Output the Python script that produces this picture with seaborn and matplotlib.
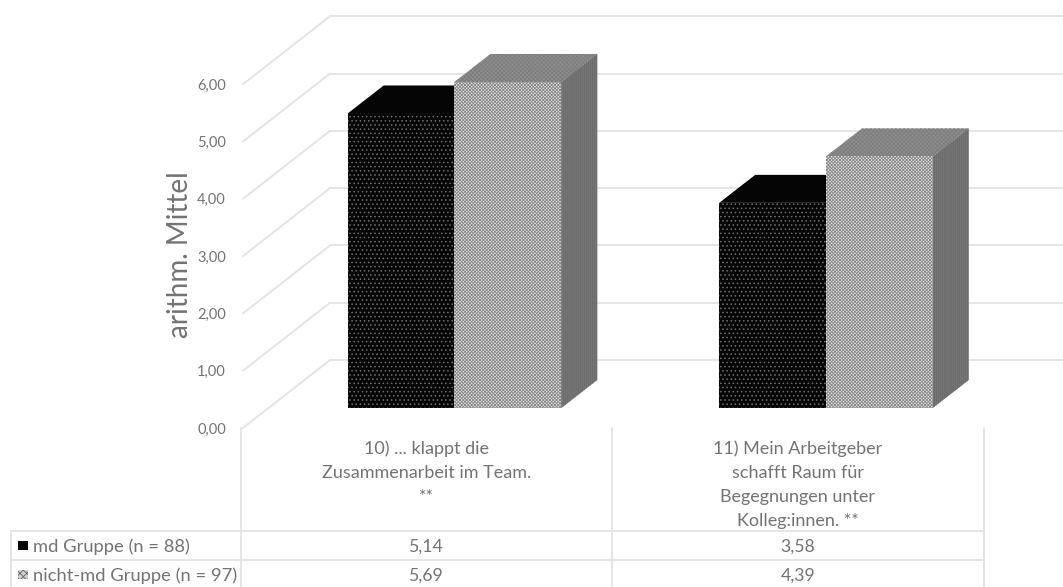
import matplotlib
matplotlib.use("Agg")
import matplotlib.pyplot as plt
from matplotlib.patches import Polygon, Rectangle
from matplotlib.lines import Line2D
import pandas as pd
import seaborn as sns

# Survey means
categories = [
    "10) ... klappt die\nZusammenarbeit im Team.\n**",
    "11) Mein Arbeitgeber\nschafft Raum für\nBegegnungen unter\nKolleg:innen. **",
]
series_names = ["md Gruppe (n = 88)", "nicht-md Gruppe (n = 97)"]
md_values = [5.14, 3.58]
non_md_values = [5.69, 4.39]
y_ticks = [0, 1, 2, 3, 4, 5, 6]

WIDTH, HEIGHT = 1063, 587
GRID = "#e3e3e3"
TEXT = "#737373"
PX_PER_CAT = 371.5
PX_PER_UNIT = 57.3
CAT0_X, ZERO_Y = 454.5, 408


def x_data(px):
    return (px - CAT0_X) / PX_PER_CAT


def y_data(px):
    return (ZERO_Y - px) / PX_PER_UNIT


sns.set_theme(style="white")
plt.rcParams["font.family"] = ["Lato", "DejaVu Sans"]
plt.rcParams["hatch.linewidth"] = 0.6

fig = plt.figure(figsize=(WIDTH / 100, HEIGHT / 100), dpi=100, facecolor="white")
ax = fig.add_axes([0, 0, 1, 1])

df = pd.DataFrame({
    "category": categories * 2,
    "group": [series_names[0]] * 2 + [series_names[1]] * 2,
    "value": md_values + non_md_values,
})

# Front faces of the bars
sns.barplot(data=df, x="category", y="value", hue="group", hue_order=series_names,
            order=categories, width=0.575, gap=0, dodge=True, legend=False, ax=ax)
ax.set_xlim(x_data(0), x_data(WIDTH))
ax.set_ylim(y_data(HEIGHT), y_data(0))
ax.set_axis_off()

# Side wall and back wall gridlines of the 3D frame
wall_front_x, wall_back_x = x_data(243), x_data(330)
wall_front_off, wall_back_off = y_data(428), y_data(360)
label_off = y_data(429.5)
for t in y_ticks:
    ax.plot([wall_front_x, wall_back_x], [t + wall_front_off, t + wall_back_off],
            color=GRID, lw=1.3, zorder=1)
    ax.plot([wall_back_x, x_data(WIDTH)], [t + wall_back_off] * 2,
            color=GRID, lw=1.3, zorder=1)
    ax.text(x_data(226), t + label_off, f"{t},00",
            ha="right", va="center", fontsize=10.5, color=TEXT)

depth_x, depth_y = 36 / PX_PER_CAT, 28 / PX_PER_UNIT
styles = [
    dict(front="#050505", hatch_c="#6f6f6f", hatch="....", top="#050505", side="#050505", z=3),
    dict(front="#e6e6e6", hatch_c="#858585", hatch="xxxxxxxxxx", top="#8e8e8e", side="#767676", z=4),
]
n_cat = len(categories)
for i, bar in enumerate(ax.patches):
    st = styles[i // n_cat]
    bar.set(facecolor=st["front"], edgecolor=st["hatch_c"], hatch=st["hatch"],
            linewidth=0, alpha=1, zorder=st["z"] + 0.5)
    x0, x1 = bar.get_x(), bar.get_x() + bar.get_width()
    h = bar.get_height()
    top = [(x0, h), (x1, h), (x1 + depth_x, h + depth_y), (x0 + depth_x, h + depth_y)]
    side = [(x1, 0), (x1 + depth_x, depth_y), (x1 + depth_x, h + depth_y), (x1, h)]
    grey = i >= n_cat
    ax.add_patch(Polygon(top, closed=True, facecolor=st["top"], edgecolor="#7c7c7c" if grey else "#050505",
                         lw=0, hatch="xxxxxxxx" if grey else None, zorder=st["z"]))
    ax.add_patch(Polygon(side, closed=True, facecolor=st["side"], edgecolor="#6a6a6a" if grey else "#050505",
                         lw=0, hatch="||||||||" if grey else None, zorder=st["z"]))


def fx(px):
    return px / WIDTH


def fy(px):
    return 1 - px / HEIGHT


# Data table underneath the plot
col_edges = [241, 612, 984]
table_left = 11
row_lines = [531, 560]
for row in row_lines:
    fig.add_artist(Line2D([fx(table_left), fx(col_edges[-1])], [fy(row)] * 2, color=GRID, lw=1.3))
fig.add_artist(Line2D([fx(table_left)] * 2, [fy(row_lines[0]), 0], color=GRID, lw=1.3))
for edge in col_edges:
    fig.add_artist(Line2D([fx(edge)] * 2, [fy(428), 0], color=GRID, lw=1.3))

row_centres = [547, 576]
for c, label in enumerate(categories):
    centre = (col_edges[c] + col_edges[c + 1]) / 2
    for n, line in enumerate(label.split("\n")):
        fig.text(fx(centre), fy(448.5 + 24.3 * n), line, ha="center", va="center",
                 fontsize=13, color=TEXT)
    for r, values in enumerate([md_values, non_md_values]):
        fig.text(fx(centre), fy(row_centres[r]), f"{values[c]:.2f}".replace(".", ","),
                 ha="center", va="center", fontsize=12.7, color=TEXT)

key_styles = [dict(facecolor="#050505", edgecolor="#050505"),
              dict(facecolor="#cfcfcf", edgecolor="#666666", hatch="xxxxx")]
for r, name in enumerate(series_names):
    fig.add_artist(Rectangle((fx(18), fy(row_centres[r] + 3)), 10 / WIDTH, 9 / HEIGHT,
                             transform=fig.transFigure, linewidth=0, **key_styles[r]))
    fig.text(fx(33), fy(row_centres[r]), name, ha="left", va="center", fontsize=13.2, color=TEXT)

fig.text(fx(180), fy(255), "arithm. Mittel", rotation=90, ha="center", va="center",
         fontsize=20, color=TEXT)

fig.savefig("out.png", dpi=100)
